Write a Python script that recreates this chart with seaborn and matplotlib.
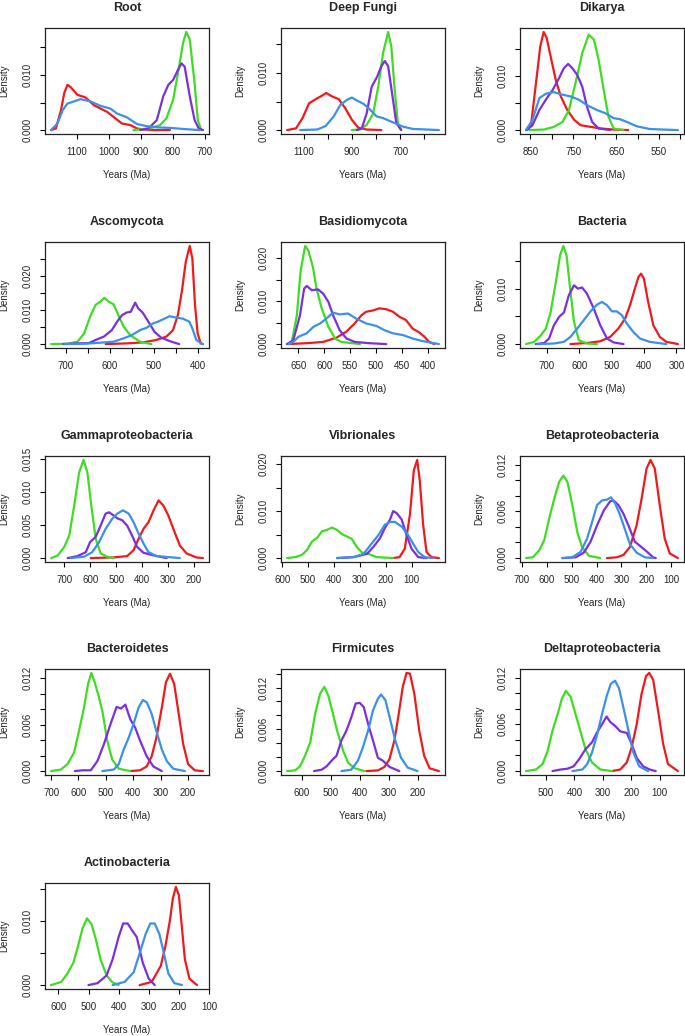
import pandas as pd
import matplotlib
matplotlib.use("Agg")
import matplotlib.pyplot as plt
import seaborn as sns

# colours of the four curves, drawn in this order
COLORS = {"red": "#F0191C", "green": "#3EDD22", "purple": "#7B2FE0", "blue": "#3A90EA"}
DRAW_ORDER = ["red", "green", "purple", "blue"]

# density curves: (years Ma, density)
root = {
    "red": ([1180, 1165, 1149, 1139, 1129, 1119, 1098, 1072, 1046, 1005, 979, 959, 933, 912, 892, 860, 809],
            [0, 0.0003, 0.0036, 0.0067, 0.0082, 0.0078, 0.0064, 0.0059, 0.0045, 0.0033, 0.0021, 0.0012, 0.0009, 0.0003, 0.0001, 0, 0]),
    "blue": ([1180, 1160, 1144, 1129, 1088, 1057, 1026, 995, 974, 943, 912, 881, 850, 809, 768, 716],
             [0, 0.0012, 0.0036, 0.0048, 0.0056, 0.0052, 0.0044, 0.0039, 0.0030, 0.0023, 0.0011, 0.0007, 0.0005, 0.0004, 0.0002, 0]),
    "green": ([923, 871, 840, 820, 799, 784, 768, 758, 747, 732, 722, 711],
              [0, 0.0003, 0.0009, 0.0021, 0.0055, 0.0103, 0.0158, 0.0178, 0.0164, 0.0085, 0.0018, 0]),
    "purple": ([902, 876, 850, 830, 814, 799, 784, 773, 763, 747, 732, 719, 706],
               [0, 0.0003, 0.0018, 0.0061, 0.0082, 0.0091, 0.0109, 0.0121, 0.0115, 0.0061, 0.0018, 0.0003, 0]),
}
deep_fungi = {
    "red": ([1168, 1131, 1104, 1077, 1050, 1029, 1006, 982, 954, 927, 900, 873, 839, 778],
            [0, 0.0003, 0.0021, 0.0047, 0.0054, 0.0059, 0.0065, 0.0059, 0.0054, 0.0038, 0.0018, 0.0004, 0.0001, 0]),
    "blue": ([1114, 1043, 1009, 975, 948, 920, 900, 880, 852, 825, 798, 771, 744, 716, 689, 648, 594, 540],
             [0, 0.0001, 0.0007, 0.0024, 0.0044, 0.0053, 0.0057, 0.0052, 0.0046, 0.0036, 0.0024, 0.0021, 0.0016, 0.0011, 0.0006, 0.0002, 0.0001, 0]),
    "green": ([900, 866, 839, 812, 791, 771, 750, 737, 723, 710, 696],
              [0, 0.0001, 0.0009, 0.0029, 0.0076, 0.0135, 0.0172, 0.0147, 0.0071, 0.0012, 0]),
    "purple": ([880, 859, 839, 818, 795, 778, 764, 750, 734, 716, 696],
               [0, 0.0003, 0.0029, 0.0076, 0.0094, 0.0112, 0.0121, 0.0112, 0.0065, 0.0012, 0]),
}
dikarya = {
    "red": ([860, 848, 837, 827, 819, 812, 802, 791, 779, 764, 748, 733, 710, 687, 656, 622],
            [0, 0.0012, 0.0086, 0.0154, 0.0181, 0.0170, 0.0133, 0.0093, 0.0062, 0.0037, 0.0019, 0.0009, 0.0006, 0.0003, 0.0001, 0]),
    "blue": ([860, 845, 829, 814, 795, 779, 756, 737, 718, 695, 675, 656, 641, 625, 602, 572, 541, 506],
             [0, 0.0019, 0.0059, 0.0067, 0.0070, 0.0066, 0.0062, 0.0056, 0.0046, 0.0037, 0.0031, 0.0022, 0.0020, 0.0015, 0.0007, 0.0002, 0.0001, 0]),
    "green": ([852, 818, 795, 775, 760, 745, 729, 714, 702, 691, 679, 668, 656, 633],
              [0, 0.0001, 0.0006, 0.0015, 0.0037, 0.0086, 0.0142, 0.0176, 0.0167, 0.0130, 0.0074, 0.0025, 0.0003, 0]),
    "purple": ([858, 845, 829, 814, 798, 783, 772, 762, 752, 741, 729, 718, 706, 691, 664],
               [0, 0.0009, 0.0037, 0.0056, 0.0074, 0.0096, 0.0114, 0.0122, 0.0114, 0.0102, 0.0080, 0.0043, 0.0015, 0.0003, 0]),
}
ascomycota = {
    "red": ([610, 562, 525, 495, 472, 457, 446, 437, 428, 419, 413, 407, 401, 394, 389],
            [0, 0.0002, 0.0005, 0.0012, 0.0022, 0.0041, 0.0085, 0.0154, 0.0242, 0.0289, 0.0252, 0.0115, 0.0031, 0.0002, 0]),
    "blue": ([704, 659, 622, 592, 569, 551, 532, 517, 502, 491, 476, 465, 450, 435, 420, 413, 404, 390],
             [0, 0.0001, 0.0004, 0.0007, 0.0017, 0.0026, 0.0041, 0.0048, 0.0061, 0.0066, 0.0075, 0.0082, 0.0078, 0.0075, 0.0066, 0.0046, 0.0012, 0]),
    "green": ([734, 696, 674, 659, 644, 633, 622, 613, 603, 592, 581, 569, 554, 532, 506],
              [0, 0.0001, 0.0007, 0.0031, 0.0085, 0.0115, 0.0125, 0.0136, 0.0125, 0.0117, 0.0085, 0.0051, 0.0026, 0.0007, 0]),
    "purple": ([707, 674, 648, 633, 614, 596, 584, 573, 562, 553, 543, 536, 526, 513, 499, 484, 465, 443],
               [0, 0.0002, 0.0003, 0.0012, 0.0022, 0.0041, 0.0066, 0.0085, 0.0093, 0.0095, 0.0122, 0.0105, 0.0093, 0.0066, 0.0036, 0.0019, 0.0009, 0]),
}
basidiomycota = {
    "red": ([672, 634, 602, 576, 557, 541, 528, 519, 506, 493, 480, 467, 454, 442, 429, 416, 406, 397, 387],
            [0, 0.0002, 0.0005, 0.0015, 0.0029, 0.0048, 0.0067, 0.0075, 0.0078, 0.0083, 0.0081, 0.0075, 0.0063, 0.0056, 0.0036, 0.0027, 0.0017, 0.0005, 0]),
    "blue": ([669, 660, 650, 634, 621, 608, 596, 583, 570, 554, 538, 519, 499, 483, 467, 448, 429, 410, 378],
             [0, 0.0005, 0.0017, 0.0025, 0.0040, 0.0048, 0.0059, 0.0073, 0.0069, 0.0071, 0.0059, 0.0048, 0.0042, 0.0032, 0.0025, 0.0021, 0.0013, 0.0007, 0]),
    "green": ([672, 663, 653, 646, 637, 631, 622, 615, 605, 592, 579, 567, 531],
              [0, 0.0005, 0.0067, 0.0168, 0.0228, 0.0218, 0.0179, 0.0129, 0.0083, 0.0040, 0.0013, 0.0005, 0]),
    "purple": ([672, 660, 647, 639, 634, 624, 612, 602, 592, 583, 570, 557, 541, 512, 480],
               [0, 0.0009, 0.0067, 0.0129, 0.0135, 0.0125, 0.0127, 0.0117, 0.0098, 0.0067, 0.0032, 0.0013, 0.0005, 0.0002, 0]),
}
bacteria = {
    "red": ([627, 576, 535, 504, 479, 458, 443, 428, 417, 409, 400, 387, 371, 351, 331, 295],
            [0, 0.0002, 0.0005, 0.0013, 0.0028, 0.0046, 0.0070, 0.0100, 0.0121, 0.0127, 0.0118, 0.0076, 0.0034, 0.0013, 0.0004, 0]),
    "blue": ([729, 678, 647, 627, 606, 586, 565, 545, 530, 514, 499, 484, 468, 453, 433, 412, 382, 331],
             [0, 0.0001, 0.0004, 0.0013, 0.0028, 0.0043, 0.0059, 0.0071, 0.0076, 0.0070, 0.0059, 0.0059, 0.0052, 0.0037, 0.0022, 0.0010, 0.0004, 0]),
    "green": ([764, 739, 718, 703, 688, 672, 659, 649, 639, 629, 616, 601, 576, 545],
              [0, 0.0004, 0.0016, 0.0028, 0.0058, 0.0112, 0.0160, 0.0177, 0.0160, 0.0106, 0.0040, 0.0007, 0.0001, 0]),
    "purple": ([734, 708, 693, 678, 662, 647, 632, 616, 604, 591, 576, 555, 535, 514, 494, 463],
               [0, 0.0002, 0.0010, 0.0034, 0.0049, 0.0057, 0.0088, 0.0106, 0.0100, 0.0102, 0.0091, 0.0064, 0.0034, 0.0010, 0.0003, 0]),
}
gammaproteobacteria = {
    "red": ([598, 509, 458, 433, 414, 395, 376, 356, 337, 318, 299, 280, 255, 229, 191, 166],
            [0, 0.0001, 0.0003, 0.0012, 0.0029, 0.0044, 0.0054, 0.0072, 0.0087, 0.0079, 0.0064, 0.0044, 0.0019, 0.0007, 0.0001, 0]),
    "blue": ([675, 624, 592, 566, 541, 516, 496, 474, 452, 433, 414, 395, 376, 344, 255],
             [0, 0.0002, 0.0009, 0.0024, 0.0044, 0.0059, 0.0067, 0.0072, 0.0067, 0.0054, 0.0037, 0.0022, 0.0009, 0.0003, 0]),
    "green": ([751, 725, 700, 681, 662, 643, 626, 611, 596, 579, 560, 535, 509],
              [0, 0.0004, 0.0017, 0.0034, 0.0079, 0.0129, 0.0148, 0.0129, 0.0079, 0.0029, 0.0007, 0.0002, 0]),
    "purple": ([687, 649, 617, 601, 579, 560, 541, 528, 509, 496, 477, 458, 439, 420, 395, 356, 306],
               [0, 0.0003, 0.0009, 0.0024, 0.0032, 0.0049, 0.0067, 0.0069, 0.0064, 0.0060, 0.0057, 0.0049, 0.0034, 0.0017, 0.0008, 0.0004, 0]),
}
vibrionales = {
    "red": ([171, 146, 126, 106, 91, 78, 68, 55, 42, 23, -6],
            [0, 0.0002, 0.0020, 0.0093, 0.0187, 0.0209, 0.0165, 0.0071, 0.0013, 0.0002, 0]),
    "blue": ([388, 324, 285, 254, 228, 203, 183, 164, 138, 113, 94, 74, 49, 17],
             [0, 0.0002, 0.0009, 0.0031, 0.0049, 0.0071, 0.0077, 0.0077, 0.0067, 0.0049, 0.0031, 0.0013, 0.0002, 0]),
    "green": ([581, 549, 523, 504, 485, 465, 446, 427, 408, 388, 369, 350, 331, 312, 292, 267, 235, 171],
              [0, 0.0002, 0.0007, 0.0017, 0.0035, 0.0043, 0.0057, 0.0060, 0.0065, 0.0060, 0.0051, 0.0046, 0.0041, 0.0024, 0.0012, 0.0009, 0.0002, 0]),
    "purple": ([388, 324, 272, 247, 222, 203, 183, 171, 158, 138, 119, 100, 74, 42],
               [0, 0.0002, 0.0009, 0.0024, 0.0042, 0.0064, 0.0082, 0.0100, 0.0096, 0.0082, 0.0049, 0.0020, 0.0002, 0]),
}
betaproteobacteria = {
    "red": ([358, 318, 292, 266, 239, 219, 199, 183, 166, 146, 126, 106, 73],
            [0, 0.0001, 0.0004, 0.0014, 0.0042, 0.0076, 0.0115, 0.0126, 0.0115, 0.0068, 0.0025, 0.0006, 0]),
    "blue": ([537, 497, 464, 438, 418, 398, 378, 358, 342, 325, 305, 285, 266, 239, 206, 173],
             [0, 0.0001, 0.0008, 0.0025, 0.0046, 0.0068, 0.0074, 0.0075, 0.0078, 0.0070, 0.0055, 0.0036, 0.0018, 0.0007, 0.0001, 0]),
    "green": ([683, 656, 630, 610, 590, 570, 550, 533, 517, 497, 477, 458, 431, 385],
              [0, 0.0001, 0.0010, 0.0023, 0.0051, 0.0076, 0.0098, 0.0106, 0.0098, 0.0068, 0.0033, 0.0014, 0.0003, 0]),
    "purple": ([537, 484, 451, 424, 398, 371, 345, 332, 312, 292, 272, 246, 219, 193, 173, 162],
               [0, 0.0001, 0.0007, 0.0021, 0.0042, 0.0061, 0.0073, 0.0074, 0.0068, 0.0057, 0.0042, 0.0021, 0.0014, 0.0007, 0.0001, 0]),
}
bacteroidetes = {
    "red": ([411, 375, 351, 333, 316, 296, 281, 266, 251, 236, 218, 200, 176, 146],
            [0, 0.0001, 0.0006, 0.0019, 0.0043, 0.0082, 0.0115, 0.0126, 0.0113, 0.0078, 0.0035, 0.0009, 0.0001, 0]),
    "blue": ([513, 471, 453, 435, 417, 399, 381, 365, 351, 333, 316, 296, 278, 254, 212],
             [0, 0.0002, 0.0009, 0.0028, 0.0043, 0.0061, 0.0082, 0.0092, 0.0089, 0.0074, 0.0052, 0.0028, 0.0013, 0.0003, 0]),
    "green": ([700, 664, 640, 616, 598, 580, 565, 553, 541, 525, 513, 495, 477, 453, 411],
              [0, 0.0002, 0.0009, 0.0024, 0.0052, 0.0082, 0.0113, 0.0127, 0.0115, 0.0095, 0.0078, 0.0039, 0.0015, 0.0003, 0]),
    "purple": ([613, 586, 555, 531, 507, 483, 461, 445, 429, 411, 393, 375, 351, 327, 296],
               [0, 0.0001, 0.0001, 0.0013, 0.0035, 0.0061, 0.0083, 0.0081, 0.0086, 0.0067, 0.0056, 0.0039, 0.0019, 0.0006, 0]),
}
firmicutes = {
    "red": ([377, 337, 314, 297, 280, 265, 251, 238, 226, 211, 194, 177, 158, 126],
            [0, 0.0001, 0.0006, 0.0017, 0.0044, 0.0082, 0.0121, 0.0141, 0.0140, 0.0111, 0.0058, 0.0022, 0.0004, 0]),
    "blue": ([463, 429, 406, 389, 371, 354, 337, 326, 311, 295, 277, 257, 234, 200],
             [0, 0.0002, 0.0015, 0.0034, 0.0058, 0.0087, 0.0104, 0.0110, 0.0102, 0.0075, 0.0044, 0.0019, 0.0005, 0]),
    "green": ([651, 623, 606, 589, 571, 554, 537, 522, 509, 494, 478, 457, 440, 417, 383],
              [0, 0.0001, 0.0007, 0.0022, 0.0041, 0.0082, 0.0111, 0.0121, 0.0109, 0.0085, 0.0058, 0.0029, 0.0012, 0.0004, 0]),
    "purple": ([558, 531, 514, 497, 480, 463, 446, 429, 414, 400, 386, 371, 354, 337, 320, 297, 263],
               [0, 0.0002, 0.0007, 0.0015, 0.0022, 0.0044, 0.0058, 0.0077, 0.0097, 0.0098, 0.0092, 0.0068, 0.0044, 0.0019, 0.0015, 0.0006, 0]),
}
deltaproteobacteria = {
    "red": ([268, 239, 216, 199, 181, 164, 148, 137, 123, 106, 88, 71, 36],
            [0, 0.0002, 0.0011, 0.0030, 0.0060, 0.0099, 0.0122, 0.0126, 0.0117, 0.0078, 0.0035, 0.0009, 0]),
    "blue": ([407, 372, 355, 338, 320, 303, 286, 272, 257, 243, 228, 210, 193, 172, 141],
             [0, 0.0002, 0.0009, 0.0024, 0.0047, 0.0073, 0.0097, 0.0112, 0.0116, 0.0106, 0.0082, 0.0052, 0.0024, 0.0006, 0]),
    "green": ([570, 535, 512, 494, 477, 459, 444, 430, 413, 396, 378, 361, 338, 309, 268],
              [0, 0.0002, 0.0009, 0.0026, 0.0052, 0.0073, 0.0093, 0.0103, 0.0095, 0.0073, 0.0050, 0.0028, 0.0011, 0.0002, 0]),
    "purple": ([477, 448, 425, 403, 384, 361, 338, 320, 303, 287, 274, 257, 239, 216, 199, 181, 158, 135, 114],
               [0, 0.0002, 0.0003, 0.0006, 0.0015, 0.0028, 0.0037, 0.0050, 0.0060, 0.0070, 0.0063, 0.0058, 0.0051, 0.0049, 0.0035, 0.0017, 0.0006, 0.0002, 0]),
}
actinobacteria = {
    "red": ([330, 290, 260, 245, 230, 220, 210, 200, 190, 180, 165, 140],
            [0, 0.0005, 0.0030, 0.0060, 0.0100, 0.0135, 0.0153, 0.0140, 0.0090, 0.0040, 0.0010, 0]),
    "blue": ([420, 380, 350, 330, 310, 295, 280, 265, 250, 235, 215, 190],
             [0, 0.0005, 0.0020, 0.0050, 0.0080, 0.0096, 0.0096, 0.0080, 0.0050, 0.0018, 0.0003, 0]),
    "green": ([625, 590, 570, 550, 535, 520, 505, 490, 475, 460, 440, 420, 400],
              [0, 0.0005, 0.0018, 0.0035, 0.0060, 0.0088, 0.0104, 0.0095, 0.0070, 0.0040, 0.0015, 0.0004, 0]),
    "purple": ([500, 470, 440, 420, 400, 385, 370, 355, 340, 320, 300, 280],
               [0, 0.0003, 0.0015, 0.0040, 0.0075, 0.0096, 0.0096, 0.0085, 0.0075, 0.0035, 0.0010, 0]),
}

titles = ["Root", "Deep Fungi", "Dikarya", "Ascomycota", "Basidiomycota", "Bacteria",
          "Gammaproteobacteria", "Vibrionales", "Betaproteobacteria", "Bacteroidetes",
          "Firmicutes", "Deltaproteobacteria", "Actinobacteria"]
curves = [root, deep_fungi, dikarya, ascomycota, basidiomycota, bacteria, gammaproteobacteria,
          vibrionales, betaproteobacteria, bacteroidetes, firmicutes, deltaproteobacteria, actinobacteria]

# x ticks (all tick marks) and the ones that carry a label
x_ticks = [[1100, 1000, 900, 800, 700], [1100, 1000, 900, 800, 700, 600],
           [850, 800, 750, 700, 650, 600, 550, 500], [700, 650, 600, 550, 500, 450, 400],
           [650, 600, 550, 500, 450, 400], [700, 600, 500, 400, 300],
           [700, 600, 500, 400, 300, 200], [600, 500, 400, 300, 200, 100],
           [700, 600, 500, 400, 300, 200, 100], [700, 600, 500, 400, 300, 200],
           [600, 500, 400, 300, 200], [500, 400, 300, 200, 100], [600, 500, 400, 300, 200, 100]]
x_labeled = [[1100, 1000, 900, 800, 700], [1100, 900, 700], [850, 750, 650, 550], [700, 600, 500, 400],
             [650, 600, 550, 500, 450, 400], [700, 600, 500, 400, 300], [700, 600, 500, 400, 300, 200],
             [600, 500, 400, 300, 200, 100], [700, 600, 500, 400, 300, 200, 100],
             [700, 600, 500, 400, 300, 200], [600, 500, 400, 300, 200], [500, 400, 300, 200, 100],
             [600, 500, 400, 300, 200, 100]]
y_ticks = [[0, 0.005, 0.010, 0.015]] * 3 + [[0, 0.005, 0.010, 0.015, 0.020, 0.025],
           [0, 0.005, 0.010, 0.015, 0.020], [0, 0.005, 0.010, 0.015], [0, 0.005, 0.010, 0.015],
           [0, 0.005, 0.010, 0.015, 0.020], [0, 0.002, 0.004, 0.006, 0.008, 0.010, 0.012],
           [0, 0.002, 0.004, 0.006, 0.008, 0.010, 0.012],
           [0, 0.002, 0.004, 0.006, 0.008, 0.010, 0.012, 0.014],
           [0, 0.002, 0.004, 0.006, 0.008, 0.010, 0.012], [0, 0.005, 0.010, 0.015]]
y_labeled = [[0, 0.010]] * 3 + [[0, 0.010, 0.020], [0, 0.010, 0.020], [0, 0.010],
             [0, 0.005, 0.010, 0.015], [0, 0.010, 0.020], [0, 0.006, 0.012], [0, 0.006, 0.012],
             [0, 0.006, 0.012], [0, 0.006, 0.012], [0, 0.010]]

sns.set_style("white")
plt.rcParams["font.family"] = ["Liberation Sans", "DejaVu Sans"]

W, H = 685, 1036
COL_LEFT = [45, 281, 520]
ROW_TOP = [28, 242, 456, 669, 883]
BOX_W, BOX_H = 164, 106

fig = plt.figure(figsize=(W / 100, H / 100), dpi=100)

for i, (title, panel) in enumerate(zip(titles, curves)):
    r, c = divmod(i, 3)
    ax = fig.add_axes([COL_LEFT[c] / W, 1 - (ROW_TOP[r] + BOX_H) / H, BOX_W / W, BOX_H / H])
    frames = []
    for name in DRAW_ORDER:
        xs, ys = panel[name]
        frames.append(pd.DataFrame({"age": xs, "density": ys, "clade": name}))
    df = pd.concat(frames, ignore_index=True)
    sns.lineplot(data=df, x="age", y="density", hue="clade", hue_order=DRAW_ORDER,
                 palette=COLORS, estimator=None, sort=False, legend=False, ax=ax, lw=1.6)

    # R style 4% padding, reversed time axis
    lo, hi = df["age"].min(), df["age"].max()
    pad = 0.04 * (hi - lo)
    ax.set_xlim(hi + pad, lo - pad)
    top = df["density"].max()
    ax.set_ylim(-0.04 * top, 1.04 * top)

    ax.set_xticks(x_ticks[i])
    ax.set_xticklabels([str(v) if v in x_labeled[i] else "" for v in x_ticks[i]])
    ax.set_yticks(y_ticks[i])
    ax.set_yticklabels([f"{v:.3f}" if any(abs(v - u) < 1e-9 for u in y_labeled[i]) else ""
                        for v in y_ticks[i]], rotation=90, va="center")

    ax.tick_params(axis="both", which="both", direction="out", length=3.6, width=0.8,
                   labelsize=7, bottom=True, left=True, color="black")
    ax.tick_params(axis="x", pad=6)
    ax.tick_params(axis="y", pad=5)
    for s in ax.spines.values():
        s.set_color("#222222")
        s.set_linewidth(0.9)

    ax.set_xlabel("Years (Ma)", fontsize=7, labelpad=9)
    ax.set_ylabel("Density", fontsize=7, labelpad=10)
    ax.set_title(title, fontsize=9, fontweight="bold", pad=12)

fig.savefig("out.png", dpi=100)
